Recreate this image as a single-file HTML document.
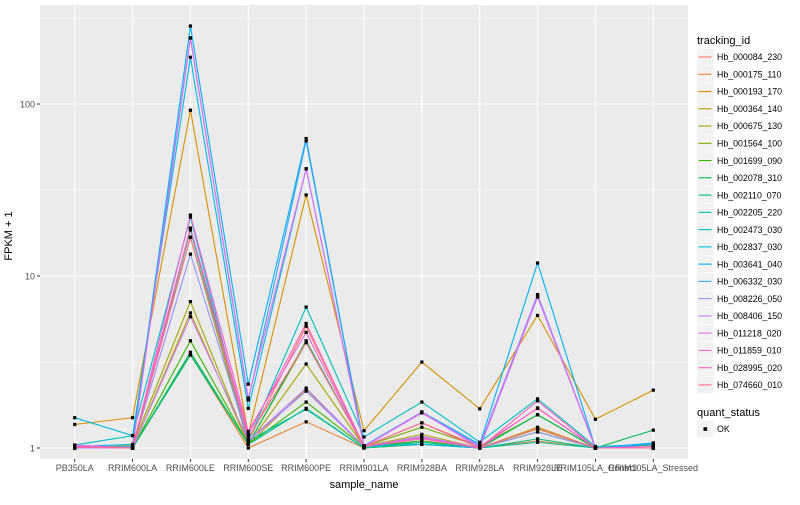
<!DOCTYPE html>
<html><head><meta charset="utf-8"><style>
body{margin:0;background:#fff;}
svg text{font-family:"Liberation Sans",sans-serif;}
</style></head><body>
<svg id="chart" width="800" height="500" xmlns="http://www.w3.org/2000/svg">
<rect x="0" y="0" width="800" height="500" fill="#fff"/>
<rect x="40" y="5" width="648" height="454" fill="#ebebeb"/>
<g id="grid"></g>
<g id="lines"></g>
<g id="points"></g>
<g id="axes"></g>
<g id="legend"></g>
<text x="12" y="236" font-size="11" fill="#000" transform="rotate(-90 12 236)" text-anchor="middle">FPKM + 1</text>
<text x="364" y="488" font-size="11" fill="#000" text-anchor="middle">sample_name</text>
</svg>
<script>
const samples = ["PB350LA","RRIM600LA","RRIM600LE","RRIM600SE","RRIM600PE","RRIM901LA","RRIM928BA","RRIM928LA","RRIM928LE","RRIM105LA_Control","RRIM105LA_Stressed"];
const ids = ["Hb_000084_230","Hb_000175_110","Hb_000193_170","Hb_000364_140","Hb_000675_130","Hb_001564_100","Hb_001699_090","Hb_002078_310","Hb_002110_070","Hb_002205_220","Hb_002473_030","Hb_002837_030","Hb_003641_040","Hb_006332_030","Hb_008226_050","Hb_008406_150","Hb_011218_020","Hb_011859_010","Hb_028995_020","Hb_074660_010"];
const colors = ["#F8766D","#EA8331","#D89000","#C09B00","#A3A500","#7CAE00","#39B600","#00BB4E","#00BF7D","#00C1A3","#00BFC4","#00BAE0","#00B0F6","#35A2FF","#9590FF","#C77CFF","#E76BF3","#FA62DB","#FF62BC","#FF6C91"];
const s0 = [1,1,19,1.1,5.1,1.02,1.4,1.02,1.7,1,1];
const s1 = [1,1,3.5,1,1.42,1,1.05,1,1.1,1,1];
const s2 = [1.37,1.5,92,1.2,29.6,1.26,3.16,1.69,5.9,1.47,2.17];
const s3 = [1,1,6.1,1.05,2.2,1.02,1.2,1,1.32,1,1];
const s4 = [1,1.03,7.1,1.05,3.08,1.02,1.15,1,1.29,1,1];
const s5 = [1,1.03,16.8,1.05,4.1,1.02,1.32,1.02,1.56,1,1];
const s6 = [1,1,4.2,1.05,1.85,1.02,1.1,1,1.24,1,1.04];
const s7 = [1,1,3.6,1.05,4.2,1.02,1.08,1,1.56,1,1.27];
const s8 = [1,1,3.47,1.05,1.7,1,1.05,1,1.13,1,1];
const s9 = [1,1,18.5,1.1,1.68,1,1.08,1,1.08,1,1];
const s10 = [1.04,1.18,22,1.1,6.6,1.16,1.85,1.08,1.93,1.02,1.05];
const s11 = [1.5,1.18,187,1.7,42,1.03,1.05,1,7.6,1,1.05];
const s12 = [1.02,1.05,284,2.35,63,1.03,1.62,1.05,11.9,1,1.07];
const s13 = [1,1.02,242,1.9,61,1.02,1.6,1.03,7.8,1,1.05];
const s14 = [1,1,13.4,1.1,2.14,1.02,1.17,1,1.24,1,1];
const s15 = [1,1,5.8,1.1,2.23,1.02,1.62,1,7.55,1,1];
const s16 = [1.04,1,242,1.95,42,1.02,1.6,1.02,7.7,1,1];
const s17 = [1.02,1,22.6,1.25,4.7,1.02,1.15,1,1.71,1,1.02];
const s18 = [1.02,1,19,1.2,5.3,1.02,1.13,1,1.88,1,1];
const s19 = [1.01,1,16.8,1.15,4.1,1.02,1.4,1,1.3,1,1];
const series = [s0,s1,s2,s3,s4,s5,s6,s7,s8,s9,s10,s11,s12,s13,s14,s15,s16,s17,s18,s19];
const yTicks = [1,10,100];
const yMinor = [Math.sqrt(10),Math.sqrt(1000),Math.sqrt(100000)];

const NS="http://www.w3.org/2000/svg";
const PL=40, PR=688, PT=5, PB=459;
const step=(PR-PL)/(samples.length-1+1.2);
function xs(i){return PL+0.6*step+i*step;}
function ys(v){return 448-172*Math.log10(v);}
function mk(tag,attrs,parent){const e=document.createElementNS(NS,tag);for(const k in attrs)e.setAttribute(k,attrs[k]);parent.appendChild(e);return e;}
const grid=document.getElementById('grid'), axes=document.getElementById('axes');
yMinor.forEach(v=>{const l=mk('line',{x1:PL,x2:PR,y1:ys(v),y2:ys(v),stroke:'#fff','stroke-width':0.5},grid);

});
yTicks.forEach(v=>{const l=mk('line',{x1:PL,x2:PR,y1:ys(v),y2:ys(v),stroke:'#fff','stroke-width':1.1},grid);


const t=mk('line',{x1:PL-3,x2:PL,y1:ys(v),y2:ys(v),stroke:'#333','stroke-width':1},axes);


const tx=mk('text',{x:PL-5,y:ys(v)+3.5,'font-size':9,fill:'#4d4d4d','text-anchor':'end'},axes);tx.textContent=v;

});
samples.forEach((s,i)=>{const x=xs(i);
const l=mk('line',{x1:x,x2:x,y1:PT,y2:PB,stroke:'#fff','stroke-width':1.1},grid);


const t=mk('line',{x1:x,x2:x,y1:PB,y2:PB+3,stroke:'#333','stroke-width':1},axes);


const tx=mk('text',{x:x,y:PB+12,'font-size':9,fill:'#4d4d4d','text-anchor':'middle'},axes);tx.textContent=s;

});
const lines=document.getElementById('lines'), pts=document.getElementById('points');
series.forEach((d,k)=>{
const p=mk('polyline',{points:d.map((v,i)=>xs(i)+','+ys(v)).join(' '),fill:'none',stroke:colors[k],'stroke-width':1.1},lines);


d.forEach((v,i)=>{const r=mk('rect',{x:xs(i)-1.6,y:ys(v)-1.6,width:3.2,height:3.2,fill:'#000'},pts);

});
});
const lg=document.getElementById('legend');
const lt=mk('text',{x:697,y:44,'font-size':11,fill:'#000'},lg);lt.textContent='tracking_id';


ids.forEach((id,k)=>{const cy=57+k*17.26;
const g=mk('g',{},lg);


mk('rect',{x:697,y:cy-8.3,width:16.6,height:16.6,fill:'#f2f2f2'},g);
mk('line',{x1:698.5,x2:711.5,y1:cy,y2:cy,stroke:colors[k],'stroke-width':1.1},g);
const t=mk('text',{x:717,y:cy+3.2,'font-size':8.8,fill:'#000'},g);t.textContent=id;});
const qt=mk('text',{x:697,y:416,'font-size':11,fill:'#000'},lg);qt.textContent='quant_status';


const qg=mk('g',{},lg);


mk('rect',{x:697,y:420.7,width:16.6,height:16.6,fill:'#f2f2f2'},qg);
mk('rect',{x:703.5,y:427.2,width:3.6,height:3.6,fill:'#000'},qg);
const ok=mk('text',{x:717,y:432.2,'font-size':8.8,fill:'#000'},qg);ok.textContent='OK';
</script>
</body></html>
